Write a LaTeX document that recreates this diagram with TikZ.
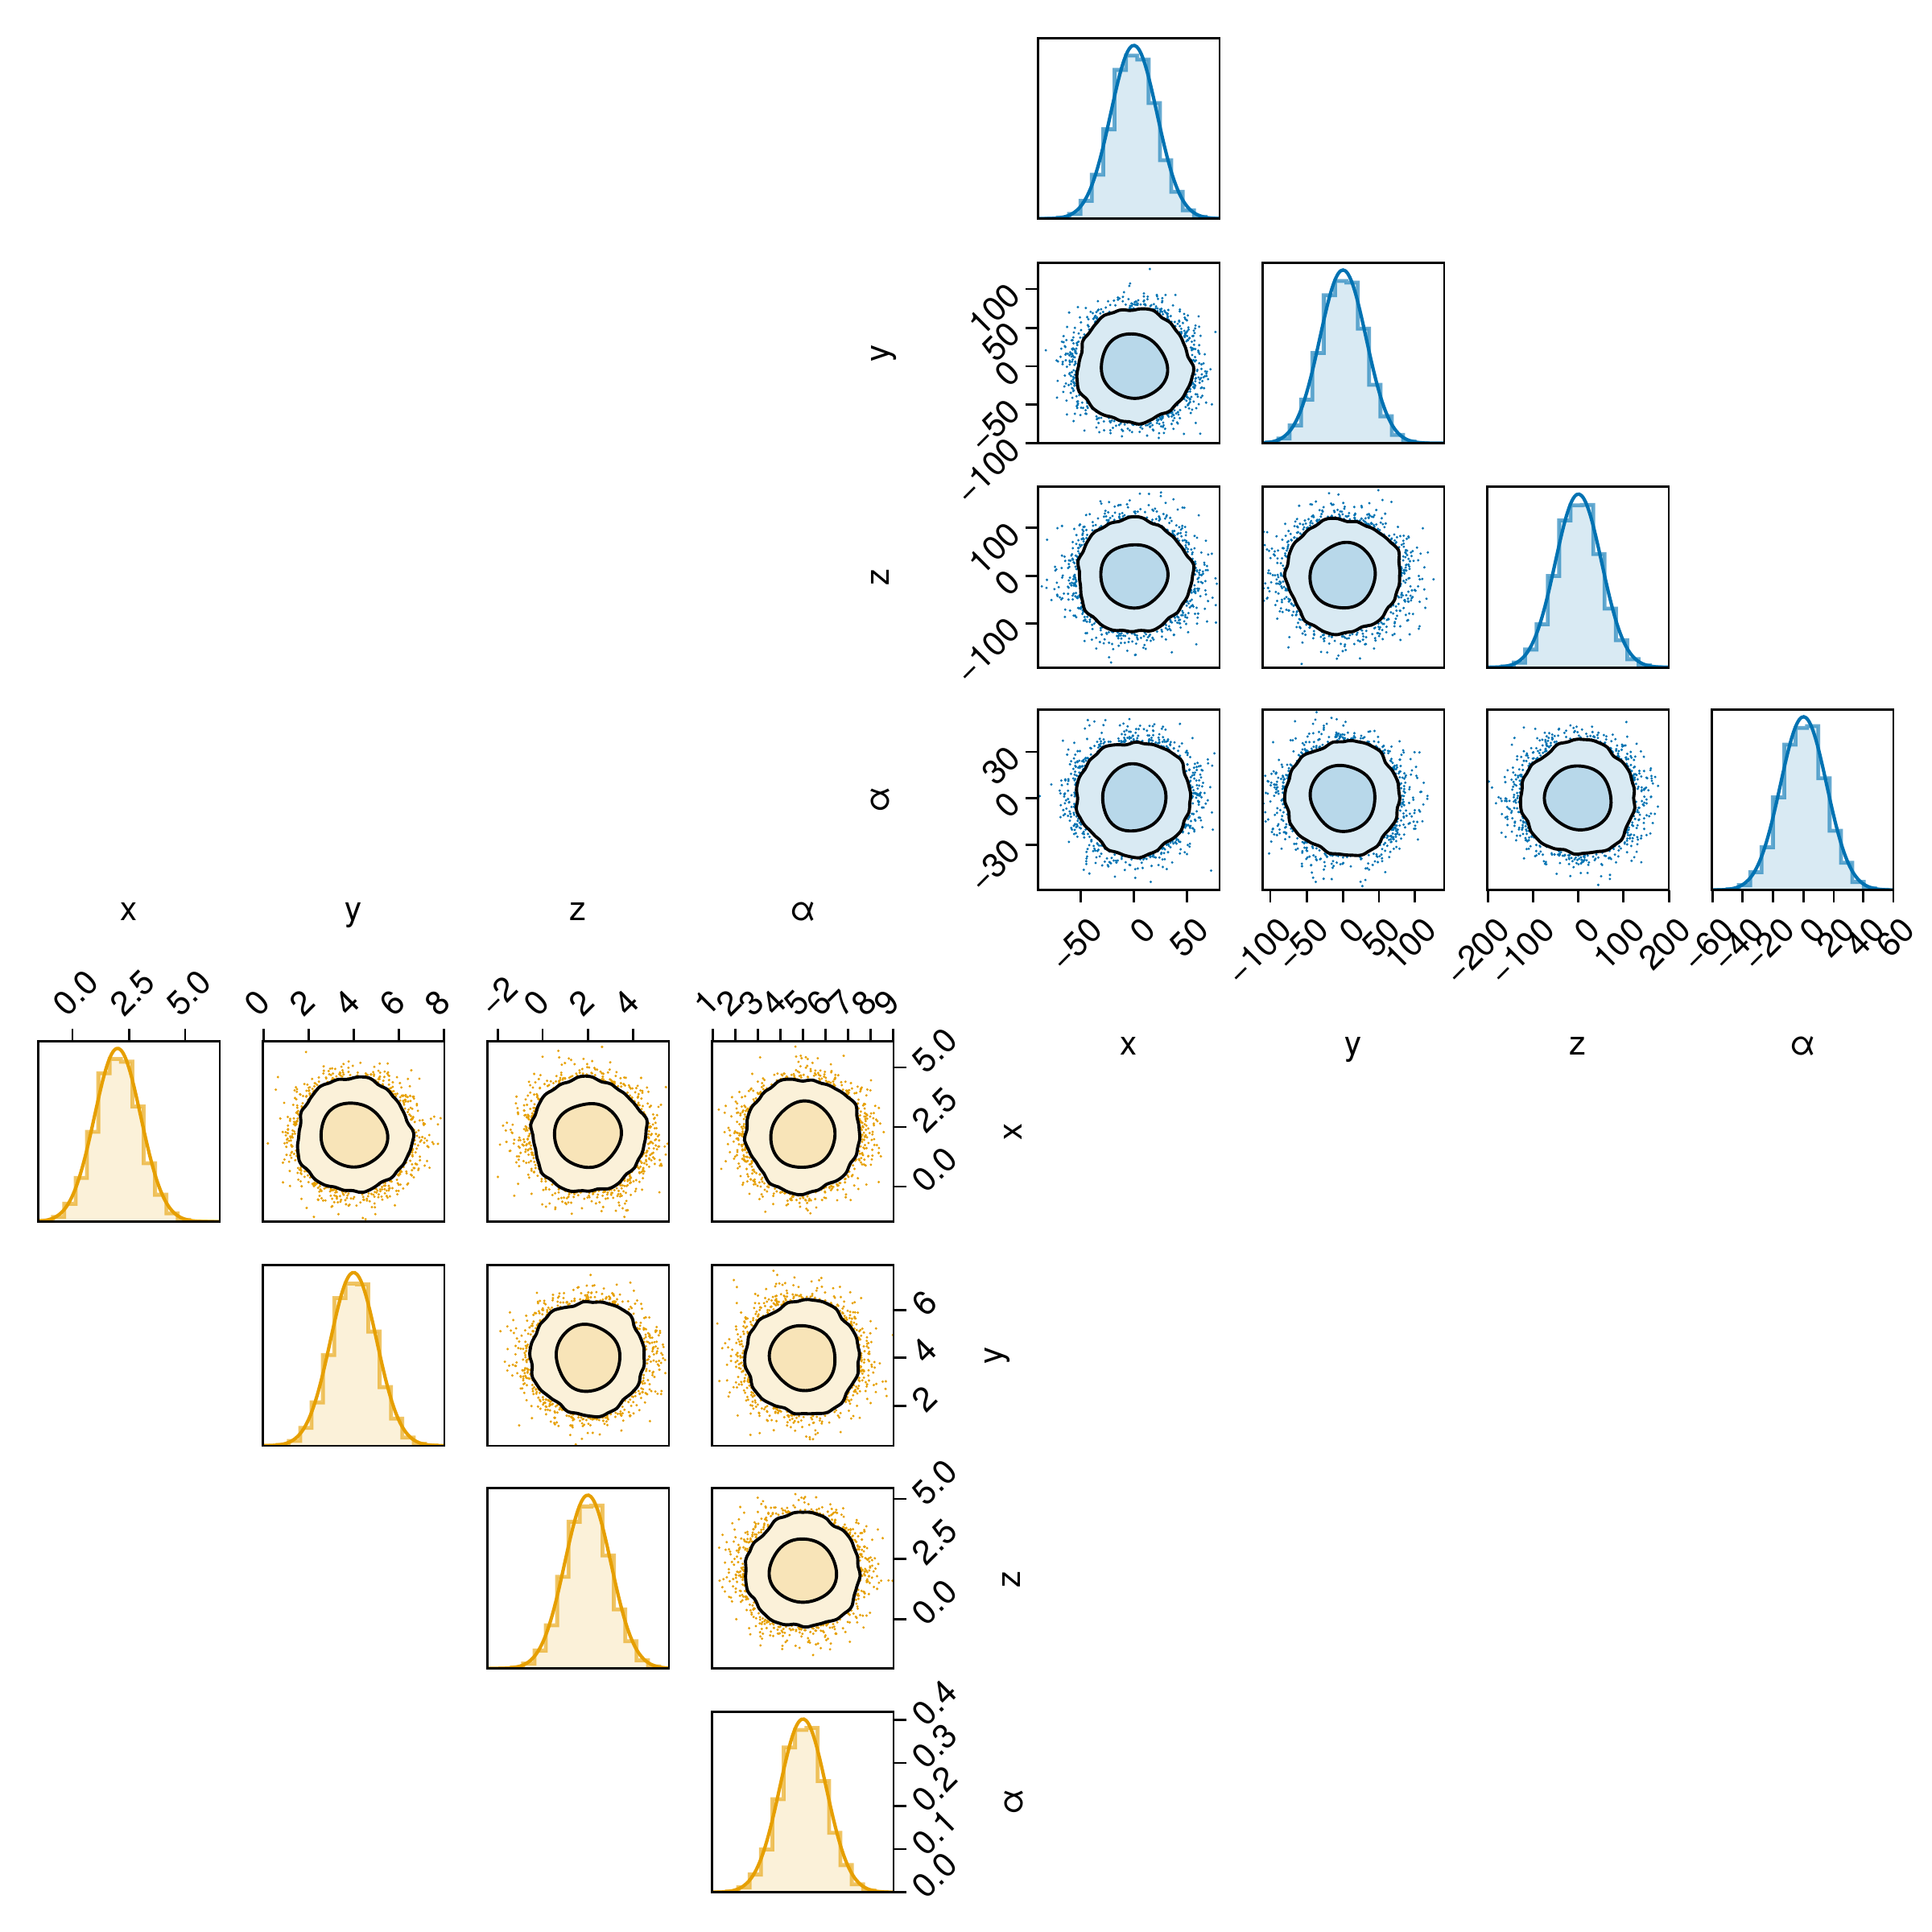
\documentclass[tikz,border=0pt]{standalone}
\usepackage{fontspec}
\setmainfont{TeX Gyre Heros}
\definecolor{bC}{RGB}{0,114,178}
\definecolor{bL}{RGB}{217,234,243}
\definecolor{bM}{RGB}{184,216,234}
\definecolor{oC}{RGB}{230,159,0}
\definecolor{oL}{RGB}{251,241,217}
\definecolor{oM}{RGB}{248,228,184}
\tikzset{
 frame/.style={draw=black, line width=0.9pt},
 tickmark/.style={draw=black, line width=0.9pt},
 tl/.style={font=\fontsize{14}{16}\selectfont, inner sep=0pt, rotate=45},
 lab/.style={font=\fontsize{14}{16}\selectfont, inner sep=0pt},
 contour/.style={draw=black, line width=1.3pt},
}
\pgfmathdeclarefunction{rout}{2}{\pgfmathparse{23.6*(1+0.025*sin(3*#1+#2)+0.02*sin(5*#1+1.7*#2)+0.015*sin(9*#1+2.3*#2)+0.01*sin(14*#1+3.1*#2)+0.007*sin(21*#1+4.3*#2))}}
\pgfmathdeclarefunction{rin}{2}{\pgfmathparse{13.5*(1+0.03*sin(2*#1+1.3*#2)+0.02*sin(3*#1+2.1*#2)+0.01*sin(5*#1+#2))}}
% scatter panel: #1 xl, #2 yt, #3 cx, #4 cy, #5 palette, #6 seed, #7 phase
\newcommand{\mkscatter}[7]{%
 \begin{scope}
  \clip (#1,#2) rectangle ++(75.2,74.8);
  \pgfmathsetseed{#6}
  \foreach \k in {1,...,520}{%
   \pgfmathsetmacro\myr{9.4*sqrt(6-2*ln(0.0005+0.9995*rnd))}%
   \pgfmathsetmacro\mya{360*rnd}%
   \fill[#5C] ({#3+1.04*\myr*cos(\mya)},{#4+\myr*sin(\mya)}) circle (0.55);
  }
  \path[fill=#5L, contour] plot[smooth cycle, samples=72, domain=0:355, variable=\t] ({#3+rout(\t,#7)*cos(\t)},{#4+rout(\t,#7)*sin(\t)});
  \path[fill=#5M, contour] plot[smooth cycle, samples=40, domain=0:351, variable=\t] ({#3+rin(\t,#7)*cos(\t)},{#4+rin(\t,#7)*sin(\t)});
 \end{scope}
 \draw[frame] (#1,#2) rectangle ++(75.2,74.8);
}
% histogram panel: #1 xl, #2 yt, #3 cx, #4 palette, #5 seed
\newcommand{\mkhist}[5]{%
 \begin{scope}
  \clip (#1,#2) rectangle ++(75.2,74.8);
  \pgfmathsetmacro\yb{#2+74.8}
  \pgfmathsetmacro\xr{#1+75.2}
  \fill[#4L] (#1,\yb) \foreach \k [evaluate=\k as \ea using #3+(\k+0.3)*4.7, evaluate=\k as \eb using #3+(\k+1.3)*4.7, evaluate=\k as \hh using \yb-71*exp((((\k+0.8)*4.7)^2)/(-169.28))*(1+0.05*sin(\k*131+#5))] in {-9,...,8} { -- (\ea,\hh) -- (\eb,\hh) } -- (\xr,\yb) -- cycle;
  \draw[#4C, opacity=0.6, line width=1.6pt] ({#3-40.89},\yb) \foreach \k [evaluate=\k as \ea using #3+(\k+0.3)*4.7, evaluate=\k as \eb using #3+(\k+1.3)*4.7, evaluate=\k as \hh using \yb-71*exp((((\k+0.8)*4.7)^2)/(-169.28))*(1+0.05*sin(\k*131+#5))] in {-9,...,8} { -- (\ea,\hh) -- (\eb,\hh) } -- ({#3+43.71},\yb);
  \draw[#4C, line width=1.4pt] plot[smooth, samples=80, domain=#1:\xr] (\x,{\yb-71.8*exp(((\x-#3)^2)/(-184.32))});
 \end{scope}
 \draw[frame] (#1,#2) rectangle ++(75.2,74.8);
}
\begin{document}
\begin{tikzpicture}[x=1pt,y=-1pt]
\useasboundingbox (0,0) rectangle (800,800);
% ===== blue corner =====
\mkhist{429.8}{15.8}{469.5}{b}{11}
\mkscatter{429.8}{108.8}{469.5}{151.7}{b}{101}{20}
\mkhist{522.8}{108.8}{556.1}{b}{23}
\mkscatter{429.8}{201.6}{469.5}{238.4}{b}{102}{75}
\mkscatter{522.8}{201.6}{556.1}{238.4}{b}{103}{140}
\mkhist{615.8}{201.6}{653.6}{b}{37}
\mkscatter{429.8}{293.8}{469.5}{330.4}{b}{104}{200}
\mkscatter{522.8}{293.8}{556.1}{330.4}{b}{105}{260}
\mkscatter{615.8}{293.8}{653.6}{330.4}{b}{106}{310}
\mkhist{708.8}{293.8}{746.8}{b}{53}
% blue bottom ticks
\foreach \p/\l in {447.5/−50,469.5/0,491.5/50,526.0/−100,541.1/−50,556.1/0,571.0/50,585.9/100,616.2/−200,634.8/−100,653.6/0,672.2/100,691.1/200,709.2/−60,721.6/−40,734.1/−20,746.8/0,759.3/20,771.5/40,784.0/60}{
 \draw[tickmark] (\p,368.6) -- (\p,373.8);
 \node[tl,anchor=east] at (\p+6.5,382.5) {\l};
}
% blue left ticks
\foreach \p/\l in {119.7/100,135.8/50,151.7/0,167.6/−50,183.6/−100,218.6/100,238.4/0,258.1/−100,311.3/30,330.4/0,349.9/−30}{
 \draw[tickmark] (429.8,\p) -- (424.6,\p);
 \node[tl,anchor=east] at (420.2,\p) {\l};
}
% blue labels
\node[lab,anchor=base] (bx) at (467.4,436.9) {x};
\node[lab,anchor=base] (by) at (560.4,436.9) {y};
\node[lab,anchor=base] (bz) at (653.4,436.9) {z};
\node[lab,anchor=base] (ba) at (746.4,436.9) {α};
\node[lab,anchor=base,rotate=90] (bly) at (368.2,146.2) {y};
\node[lab,anchor=base,rotate=90] (blz) at (368.2,239.0) {z};
\node[lab,anchor=base,rotate=90] (bla) at (368.2,331.2) {α};
% ===== orange corner =====
\mkhist{15.8}{431.1}{48.7}{o}{17}
\mkscatter{108.8}{431.1}{146.4}{470.0}{o}{201}{35}
\mkscatter{201.8}{431.1}{243.4}{470.0}{o}{202}{95}
\mkscatter{294.8}{431.1}{332.5}{470.0}{o}{203}{165}
\mkhist{108.8}{523.9}{146.4}{o}{29}
\mkscatter{201.8}{523.9}{243.4}{562.2}{o}{204}{230}
\mkscatter{294.8}{523.9}{332.5}{562.2}{o}{205}{285}
\mkhist{201.8}{616.1}{243.4}{o}{41}
\mkscatter{294.8}{616.1}{332.5}{650.5}{o}{206}{340}
\mkhist{294.8}{708.8}{332.5}{o}{59}
% orange top ticks
\foreach \p/\l in {30.0/0.0,53.4/2.5,76.7/5.0,109.1/0,127.8/2,146.4/4,165.2/6,183.9/8,206.1/−2,224.7/0,243.4/2,262.1/4,295.1/1,304.4/2,313.9/3,323.2/4,332.5/5,341.8/6,351.1/7,360.6/8,369.9/9}{
 \draw[tickmark] (\p,431.1) -- (\p,425.9);
 \node[tl,anchor=west] at (\p-5.6,418.2) {\l};
}
% orange right ticks
\foreach \p/\l in {442.0/5.0,466.7/2.5,491.3/0.0,542.6/6,562.2/4,582.1/2,620.7/5.0,645.5/2.5,670.5/0.0,712.2/0.4,730.0/0.3,747.9/0.2,765.7/0.1,783.6/0.0}{
 \draw[tickmark] (370,\p) -- (375.2,\p);
 \node[tl,anchor=west] at (380.0,\p) {\l};
}
% orange labels
\node[lab,anchor=base] (ox) at (53.4,381.3) {x};
\node[lab,anchor=base] (oy) at (146.4,381.3) {y};
\node[lab,anchor=base] (oz) at (239.4,381.3) {z};
\node[lab,anchor=base] (oa) at (332.4,381.3) {α};
\node[lab,anchor=base,rotate=90] (orx) at (423.3,468.5) {x};
\node[lab,anchor=base,rotate=90] (ory) at (415.0,561.3) {y};
\node[lab,anchor=base,rotate=90] (orz) at (422.5,654.0) {z};
\node[lab,anchor=base,rotate=90] (ora) at (423.6,746.2) {α};
\end{tikzpicture}
\end{document}
